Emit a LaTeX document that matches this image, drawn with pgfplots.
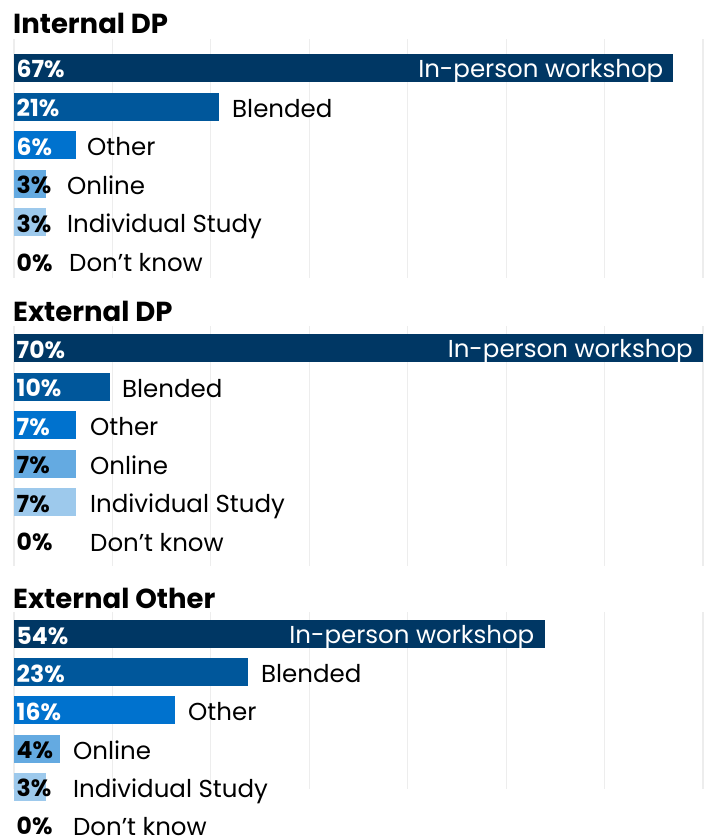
\documentclass[border=0pt]{standalone}
\usepackage{pgfplots}
\pgfplotsset{compat=1.18}
\usepackage{fontspec}
\setmainfont{Poppins}

\definecolor{c1}{HTML}{003764}
\definecolor{c2}{HTML}{00579B}
\definecolor{c3}{HTML}{0072CE}
\definecolor{c4}{HTML}{64AAE1}
\definecolor{c5}{HTML}{9DC9EC}
\definecolor{gridgray}{HTML}{EDEDED}

\newcommand\catfont{\fontsize{24.5}{28}\selectfont}
\newcommand\valfont{\fontsize{23.5}{27}\selectfont\bfseries}
\newcommand\titlefont{\fontsize{27.5}{31}\selectfont\bfseries}

\pgfplotsset{
  panel/.style={scale only axis, width=689pt, xmin=0, xmax=70, y dir=reverse,
    axis line style={draw=none}, tick style={draw=none},
    xtick={0,10,...,70}, xticklabels={}, ytick=\empty, xmajorgrids,
    grid style={color=gridgray, line width=1.2pt}, clip=false},
  bar/.style={xbar, bar width=28pt, bar shift=0pt, draw=none, fill=#1},
  vals/.style={draw=none, mark=none, point meta=explicit symbolic, nodes near coords,
    nodes near coords style={anchor=base west, inner sep=0pt, xshift=2.5pt, yshift=-10pt,
      font=\valfont, text=#1}},
  cats/.style={draw=none, mark=none, point meta=explicit symbolic, nodes near coords,
    nodes near coords style={anchor=base west, inner sep=0pt, yshift=-10.5pt,
      font=\catfont, text=black}},
  topcat/.style={draw=none, mark=none, point meta=explicit symbolic, nodes near coords,
    nodes near coords style={anchor=base east, inner sep=0pt, xshift=-10pt, yshift=-9.5pt,
      font=\catfont, text=white}},
}

\begin{document}
\begin{tikzpicture}
\useasboundingbox (0,0) rectangle (712pt,-838pt);

% Internal DP
\node[anchor=base west, inner sep=0pt, font=\titlefont] at (13pt,-33pt) {Internal DP};
\begin{axis}[panel, at={(14pt,-39pt)}, anchor=north west, height=239pt, ymin=0.249, ymax=6.44]
\addplot[bar=c1] coordinates {(67,1)};
\addplot[bar=c2] coordinates {(20.8,2)};
\addplot[bar=c3] coordinates {(6.3,3)};
\addplot[bar=c4] coordinates {(3.25,4)};
\addplot[bar=c5] coordinates {(3.25,5)};
\addplot[vals=white] coordinates {(0,1) [67\%] (0,2) [21\%] (0,3) [6\%]};
\addplot[vals=black] coordinates {(0,4) [3\%] (0,5) [3\%] (0,6) [0\%]};
\addplot[topcat] coordinates {(67,1) [In-person workshop]};
\addplot[cats] coordinates {(22.15,2) [Blended] (7.42,3) [Other] (5.38,4) [Online]
  (5.38,5) [Individual Study] (5.59,6) [Don’t know]};
\end{axis}

% External DP
\node[anchor=base west, inner sep=0pt, font=\titlefont] at (13pt,-321pt) {External DP};
\begin{axis}[panel, at={(14pt,-326pt)}, anchor=north west, height=240pt, ymin=0.43, ymax=6.648]
\addplot[bar=c1] coordinates {(70,1)};
\addplot[bar=c2] coordinates {(9.75,2)};
\addplot[bar=c3] coordinates {(6.3,3)};
\addplot[bar=c4] coordinates {(6.3,4)};
\addplot[bar=c5] coordinates {(6.3,5)};
\addplot[vals=white] coordinates {(0,1) [70\%] (0,2) [10\%] (0,3) [7\%]};
\addplot[vals=black] coordinates {(0,4) [7\%] (0,5) [7\%] (0,6) [0\%]};
\addplot[topcat] coordinates {(70,1) [In-person workshop]};
\addplot[cats] coordinates {(10.97,2) [Blended] (7.72,3) [Other] (7.72,4) [Online]
  (7.72,5) [Individual Study] (7.72,6) [Don’t know]};
\end{axis}

% External Other
\node[anchor=base west, inner sep=0pt, font=\titlefont] at (13pt,-608pt) {External Other};
\begin{axis}[panel, at={(14pt,-612pt)}, anchor=north west, height=177pt, ymin=0.424, ymax=5.058]
\addplot[bar=c1] coordinates {(53.9,1)};
\addplot[bar=c2] coordinates {(23.8,2)};
\addplot[bar=c3] coordinates {(16.4,3)};
\addplot[bar=c4] coordinates {(4.7,4)};
\addplot[bar=c5] coordinates {(3.25,5)};
\addplot[vals=white] coordinates {(0,1) [54\%] (0,2) [23\%] (0,3) [16\%]};
\addplot[vals=black] coordinates {(0,4) [4\%] (0,5) [3\%] (0,6) [0\%]};
\addplot[topcat] coordinates {(53.9,1) [In-person workshop]};
\addplot[cats] coordinates {(25.09,2) [Blended] (17.68,3) [Other] (5.99,4) [Online]
  (5.99,5) [Individual Study] (5.99,6) [Don’t know]};
\end{axis}
\end{tikzpicture}
\end{document}
